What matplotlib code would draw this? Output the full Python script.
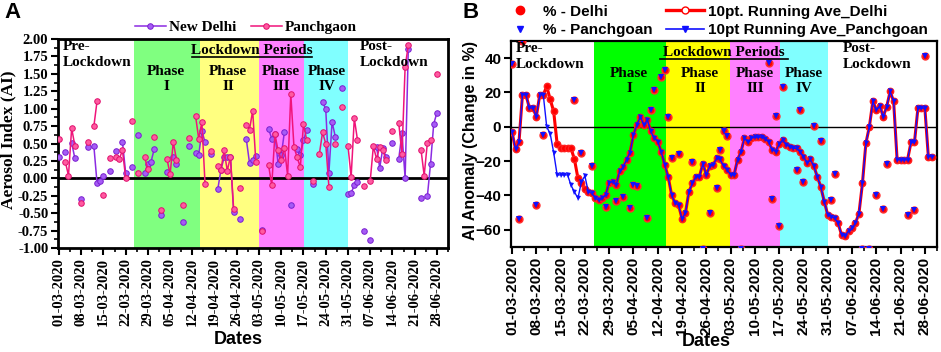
import datetime as dt
import numpy as np
import matplotlib
matplotlib.use('Agg')
import matplotlib.pyplot as plt
from matplotlib.lines import Line2D

# ---------------- data ----------------
start = dt.date(2020, 3, 1)
n_days = 122
tick_days = list(range(0, 120, 7))
tick_labels = [(start + dt.timedelta(days=d)).strftime('%d-%m-%Y') for d in tick_days]

phase_edges = [23.7, 44.3, 62.9, 77.2, 91.1]
phase_names = ['Phase\nI', 'Phase\nII', 'Phase\nIII', 'Phase\nIV']

# panel A : aerosol index, day offset from 01-03-2020
delhi_days = [0, 2, 4, 5, 7, 9, 11, 12, 13, 14, 16, 18, 20, 21, 23, 25, 27, 28, 29, 30,
              32, 34, 36, 37, 39, 41, 43, 44, 45, 46, 48, 50, 51, 52, 53, 54, 55, 57, 59, 60,
              61, 62, 64, 66, 67, 68, 69, 70, 71, 73, 75, 76, 77, 78, 80, 83, 84, 85, 86, 87,
              89, 91, 92, 93, 94, 96, 98, 100, 101, 102, 103, 105, 107, 108, 109, 110, 114, 116, 117, 118,
              119]
delhi_ai = [0.31, 0.38, 0.51, 0.29, -0.30, 0.45, 0.46, -0.07, -0.04, 0.03, 0.10, 0.39, 0.52, 0.08, 0.16, 0.62, 0.08, 0.20, 0.24, 0.42,
            -0.53, 0.09, 0.30, 0.20, -0.63, 0.47, 0.36, 0.33, 0.68, 0.52, 0.35, -0.16, 0.12, 0.30, 0.30, 0.31, -0.49, -0.59, 0.56, 0.22,
            0.27, 0.32, -0.74, 0.71, 0.57, 0.63, 0.21, 0.33, 0.67, -0.38, 0.42, 0.33, 0.55, 0.69, -0.08, 1.09, 1.00, 0.08, 0.81, 0.60,
            1.29, -0.22, -0.21, -0.10, -0.05, -0.76, -0.88, 0.45, 0.15, 0.44, 0.30, 0.51, 0.28, 0.65, 0.00, 1.86, -0.28, -0.26, 0.21, 0.78,
            0.94]

panch_days = [0, 2, 3, 4, 5, 7, 9, 11, 12, 14, 16, 18, 19, 20, 21, 23, 25, 27, 28, 30,
              32, 34, 35, 36, 37, 39, 41, 43, 44, 45, 46, 48, 50, 51, 52, 53, 54, 55, 57, 59,
              60, 61, 62, 64, 66, 67, 68, 69, 70, 71, 72, 73, 74, 75, 76, 77, 78, 80, 82, 83,
              84, 85, 87, 89, 91, 92, 93, 94, 96, 98, 99, 100, 101, 102, 103, 105, 107, 108, 109, 110,
              114, 115, 116, 117, 119]
panch_ai = [0.57, 0.24, 0.04, 0.72, 0.47, -0.36, 0.52, 0.75, 1.11, -0.24, 0.29, 0.31, 0.28, 0.40, 0.01, 0.82, 0.08, 0.30, 0.13, 0.60,
            -0.46, 0.28, 0.06, 0.52, 0.27, -0.38, 0.58, 0.90, 0.57, 0.81, -0.08, 0.39, 0.18, 0.12, 0.40, 0.11, 0.31, -0.44, -0.14, 0.77,
            0.70, 0.97, 0.23, -0.75, 0.19, -0.10, 0.63, 0.40, 0.27, 0.44, 0.04, 1.21, 0.45, 0.30, 0.16, 0.78, 0.55, -0.04, 0.35, 0.66,
            0.50, -0.12, 0.49, 1.03, 0.47, 0.02, 0.86, 0.55, -0.11, -0.04, 0.46, 0.28, 0.45, 0.40, 0.26, 0.68, 0.79, 0.35, 1.60, 1.91,
            0.41, 0.04, 0.51, 0.55, 1.50]

# panel B : AI anomaly (%)
pct_days = [0, 2, 3, 7, 9, 18, 20, 23, 27, 30, 32, 34, 35, 36, 39, 40, 41, 43, 44, 45,
            46, 48, 52, 55, 57, 59, 60, 61, 62, 66, 74, 75, 76, 77, 78, 82, 83, 84, 87, 89,
            92, 93, 101, 103, 105, 107, 108, 114, 116, 119]
pct_delhi = [36.7, -53.8, 50, -45.5, -4.7, 15.7, -15.4, -23, -46.5, -43, -40.6, -47.4, -34, -34.5, -53, 10, 21.6, 29, 33, 6,
             -18, -15.7, -20.2, -71, -50.3, -35.8, -13.4, -2.7, -5.6, -71, 37, -42, 6.4, -58, 23, -25, 10, -32, 0.6, -8,
             -42.6, -27.5, -71, -71, -39.7, -48, -21.6, -51.3, -48.4, 41]
# the Panchgoan points sit on the Delhi points in the figure
pct_panch = [36.7, -53.8, 50, -45.5, -4.7, 15.7, -15.4, -23, -46.5, -43, -40.6, -47.4, -34, -34.5, -53, 10, 21.6, 29, 33, 6,
             -18, -15.7, -20.2, -71, -50.3, -35.8, -13.4, -2.7, -5.6, -71, 37, -42, 6.4, -58, 23, -25, 10, -32, 0.6, -8,
             -42.6, -27.5, -71, -71, -39.7, -48, -21.6, -51.3, -48.4, 41]

ra_delhi = [-3, -13, -9, 18.7, 18.7, 11, 11, 6, 18.7, 18.7,
            23.5, 16, 9, -10, -12.5, -12.5, -12.5, -12.5, -19, -30,
            -33, -36, -38, -38.5, -41.6, -42.7, -41.6, -39.6, -32.5, -32,
            -34, -26, -23.5, -19.2, -15, -4.7, 1.2, 6, 1, 4.1,
            -2.7, -6.6, -8.6, -14.4, -22, -29, -39.7, -44.5, -45.5, -53.6,
            -50, -37.7, -32.9, -29, -29, -21.6, -27.8, -23, -22, -18.3,
            -19, -23, -25, -28, -28, -19.2, -14.4, -6.6, -9, -6.6,
            -6, -6, -6, -7, -9, -13.4, -14.4, -10, -7.6, -10.5,
            -11.5, -12.5, -12.5, -14.4, -17.3, -21, -19, -23, -29, -35,
            -43.5, -51.3, -52.3, -53.2, -56.2, -63, -63.5, -60.6, -59, -56,
            -50.5, -33, -9.5, 0, 14.8, 10, 12.2, 6, 11.8, 20.6,
            14.8, -19.2, -19.2, -19.2, -19.2, -9.1, -9.1, 10.9, 10.9, 10.9,
            -17.3, -17.3]
# Panchgoan running average only departs from Delhi in the pre-lockdown days
ra_panch_from = 10
ra_panch_pre = [0, -4, -15, -28, -28, -28, -28, -34, -38, -41.6, -32, -28.6]

# ---------------- helpers ----------------
W, H = 941, 352
SERIF = 'Liberation Serif'
SANS = 'Liberation Sans'


def fx(px):
    return px / W


def fy(py):
    return 1 - py / H


def daily(days, vals):
    y = np.full(n_days, np.nan)
    y[days] = vals
    return y


x = np.arange(n_days)
ra_panch = list(ra_delhi)
ra_panch[ra_panch_from:ra_panch_from + len(ra_panch_pre)] = ra_panch_pre

fig = plt.figure(figsize=(W / 100, H / 100), dpi=100)

# ================= panel A =================
axA = fig.add_axes([fx(58), fy(248), (448 - 58) / W, (248 - 39) / H])
colors_a = ['#80ff80', '#ffff80', '#ff80ff', '#80ffff']
for i in range(4):
    axA.axvspan(phase_edges[i], phase_edges[i + 1], color=colors_a[i], lw=0, zorder=0)
axA.axhline(0, color='black', lw=2, zorder=1)
axA.plot(x, daily(delhi_days, delhi_ai), '-o', color='#8b2be2', lw=1.1, ms=4,
         mfc='#a55cf5', mec='#7a1fd0', mew=0.7, zorder=3, label='New Delhi')
axA.plot(x, daily(panch_days, panch_ai), '-o', color='#f0147a', lw=1.1, ms=4,
         mfc='#ff5aa0', mec='#e0106e', mew=0.7, zorder=4, label='Panchgaon')
axA.set_xlim(-0.3, 120.7)
axA.set_ylim(-1, 2)
axA.set_yticks(np.arange(-1, 2.01, 0.25))
axA.set_yticklabels(['%.2f' % v for v in np.arange(-1, 2.01, 0.25)])
axA.set_yticks(np.arange(-1, 2.0, 0.125), minor=True)
axA.set_xticks(tick_days)
axA.set_xticks([d + 3.5 for d in tick_days], minor=True)
axA.set_xticklabels(tick_labels, rotation=90)
for lab in axA.get_xticklabels() + axA.get_yticklabels():
    lab.set_fontfamily(SERIF)
    lab.set_fontweight('bold')
    lab.set_fontsize(10.5)
axA.tick_params(which='major', length=5, width=1.5, pad=2)
axA.tick_params(which='minor', length=3, width=1.2)
for s in axA.spines.values():
    s.set_linewidth(2)
axA.legend(loc='center left', bbox_to_anchor=(fx(135), fy(27)), bbox_transform=fig.transFigure,
           ncol=2, frameon=False, borderpad=0, borderaxespad=0,
           handlelength=2.0, handletextpad=0.2, columnspacing=1.0,
           prop={'family': SERIF, 'weight': 'bold', 'size': 11})

ta = dict(family=SERIF, weight='bold', fontsize=11, linespacing=1.25)
fig.text(fx(63), fy(40), 'Pre-\nLockdown', va='top', ha='left', **ta)
fig.text(fx(360), fy(40), 'Post-\nLockdown', va='top', ha='left', **ta)
fig.text(fx(252), fy(50), 'Lockdown Periods', va='center', ha='center', **ta)
fig.add_artist(Line2D([fx(192), fx(312)], [fy(57), fy(57)], color='black', lw=1.2))
for xc, name in zip([166, 228, 281, 327], phase_names):
    fig.text(fx(xc), fy(65), name, va='top', ha='center', **ta)

fig.text(fx(8), fy(140), 'Aerosol Index (AI)', rotation=90, va='center', ha='center',
         family=SERIF, weight='bold', fontsize=12.5)
fig.text(fx(238), fy(340), 'Dates', va='center', ha='center', family=SANS, weight='bold', fontsize=13)
fig.text(fx(4), fy(12), 'A', va='center', ha='left', family=SANS, weight='bold', fontsize=16)

# ================= panel B =================
axB = fig.add_axes([fx(511), fy(247), (937 - 511) / W, (247 - 41) / H])
colors_b = ['#00ff00', '#ffff00', '#ff80ff', '#80ffff']
for i in range(4):
    axB.axvspan(phase_edges[i], phase_edges[i + 1], color=colors_b[i], lw=0, zorder=0)
axB.axhline(0, color='black', lw=1, zorder=1)
axB.plot(pct_days, pct_delhi, 'o', color='red', ms=5, mec='#ff3030', zorder=3)
axB.plot(pct_days, pct_panch, 'v', color='#1010ff', ms=3.8, mew=0, zorder=4)
axB.plot(x, ra_delhi, '-o', color='red', lw=2.2, ms=4.6, mec='#ff2020', zorder=5)
axB.plot(x, ra_panch, '-v', color='#1010ff', lw=1.0, ms=3.6, mew=0, zorder=6)
axB.set_xlim(-0.3, 122.5)
axB.set_ylim(-70, 50)
axB.set_yticks([-60, -40, -20, 0, 20, 40])
axB.set_xticks(tick_days)
axB.set_xticks([d + 3.5 for d in tick_days], minor=True)
axB.set_xticklabels(tick_labels, rotation=90)
for lab in axB.get_xticklabels() + axB.get_yticklabels():
    lab.set_fontfamily(SANS)
    lab.set_fontweight('bold')
    lab.set_fontsize(11)
axB.tick_params(which='major', length=5, width=1.5, pad=2)
axB.tick_params(which='minor', length=3, width=1.2)
for s in axB.spines.values():
    s.set_linewidth(1.6)

handles = [
    Line2D([], [], ls='none', marker='o', color='red', ms=6),
    Line2D([], [], ls='none', marker='v', color='#1010ff', ms=5),
    Line2D([], [], color='red', lw=2.4, marker='o', mfc='white', mec='red', ms=5),
    Line2D([], [], color='#1010ff', lw=1.2, marker='v', ms=4),
]
names = ['% - Delhi', '% - Panchgoan', '10pt. Running Ave_Delhi', '10pt Running Ave_Panchgoan']
axB.legend(handles, names, loc='center left', bbox_to_anchor=(fx(501), fy(21)),
           bbox_transform=fig.transFigure, ncol=2, frameon=False, borderpad=0, borderaxespad=0,
           handlelength=2.5, handletextpad=0.26, columnspacing=0.85, labelspacing=0.3,
           prop={'family': SANS, 'weight': 'bold', 'size': 11})

fig.text(fx(516), fy(42), 'Pre-\nLockdown', va='top', ha='left', **ta)
fig.text(fx(843), fy(42), 'Post-\nLockdown', va='top', ha='left', **ta)
fig.text(fx(724), fy(52), 'Lockdown Periods', va='center', ha='center', **ta)
fig.add_artist(Line2D([fx(660), fx(788)], [fy(59), fy(59)], color='black', lw=1.2))
for xc, name in zip([629, 700, 755, 804], phase_names):
    fig.text(fx(xc), fy(67), name, va='top', ha='center', **ta)

fig.text(fx(470), fy(140), 'AI Anomaly (Change in %)', rotation=90, va='center', ha='center',
         family=SANS, weight='bold', fontsize=11.5)
fig.text(fx(706), fy(341), 'Dates', va='center', ha='center', family=SANS, weight='bold', fontsize=13)
fig.text(fx(462), fy(12), 'B', va='center', ha='left', family=SANS, weight='bold', fontsize=16)

fig.savefig('out.png', dpi=100)
